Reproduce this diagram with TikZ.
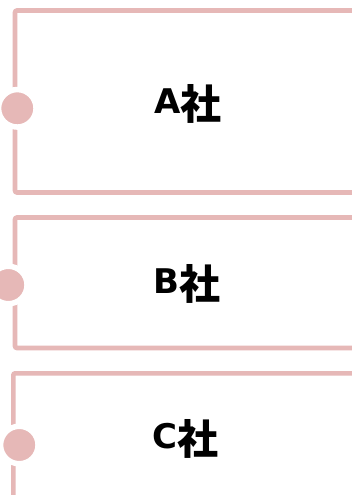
\documentclass[tikz,border=0pt]{standalone}
\usepackage{fontspec}
\setmainfont{DejaVu Sans}
\newfontfamily\cjk{Noto Sans CJK JP}
\definecolor{pinkline}{HTML}{E6B8B7}
\newcommand{\coname}[1]{{\fontsize{34}{34}\selectfont\bfseries #1}\raisebox{-6pt}{\cjk\fontsize{41}{41}\selectfont\bfseries 社}}
\tikzset{
  frame/.style={draw=pinkline, line width=4.6pt, rounded corners=2pt},
  dot/.style={circle, fill=pinkline, draw=white, line width=5.5pt, minimum size=37.5pt, inner sep=0pt},
  label/.style={anchor=base, inner sep=0pt}
}
\begin{document}
\begin{tikzpicture}[x=1pt, y=-1pt]
\useasboundingbox (0,0) rectangle (352,495);
\fill[white] (0,0) rectangle (352,495);
% box A
\draw[frame] (360,10.5) -- (15,10.5) -- (15,192.5) -- (360,192.5);
\node[dot] (dotA) at (17.3,108.3) {};
\node[label] (textA) at (188,113) {\coname{A}};
% box B
\draw[frame] (360,217.5) -- (15,217.5) -- (15,348) -- (360,348);
\node[dot] (dotB) at (8.3,285) {};
\node[label] (textB) at (187,293) {\coname{B}};
% box C
\draw[frame] (360,373.3) -- (13.3,373.3) -- (13.3,505);
\node[dot] (dotC) at (19.3,445) {};
\node[label] (textC) at (185.5,448) {\coname{C}};
\end{tikzpicture}
\end{document}
